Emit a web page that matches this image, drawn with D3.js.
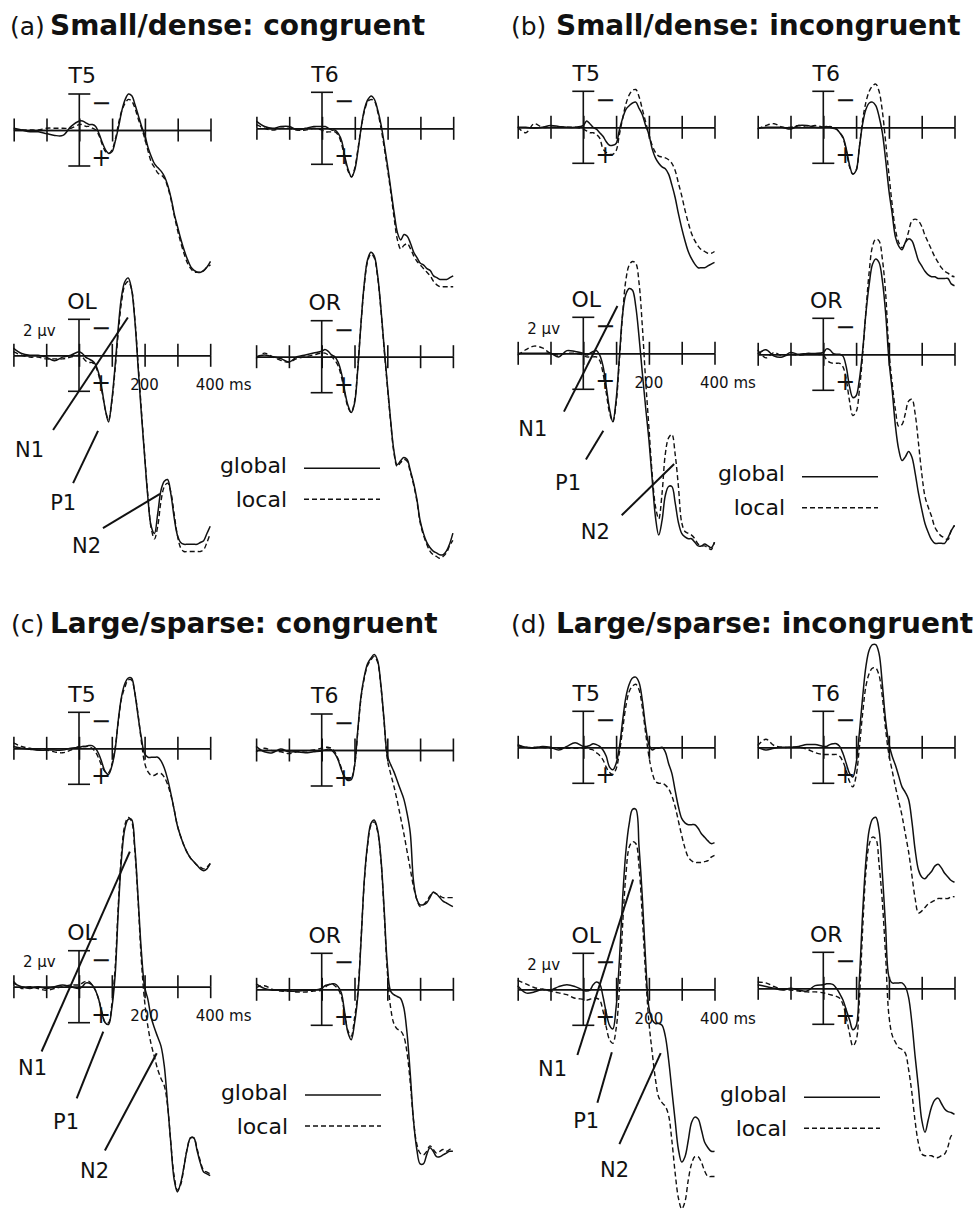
<!DOCTYPE html>
<html><head><meta charset="utf-8">
<script src="https://cdn.jsdelivr.net/npm/d3@7"></script>
<style>
html,body{margin:0;padding:0;background:#fff;}
svg{display:block;font-family:"DejaVu Sans",Verdana,sans-serif;}
</style>
</head><body>
<svg id="chart" width="978" height="1210"></svg>
<script>
// ---------------- DATA ----------------
// sample times (ms)
const times = [-200,-175,-150,-125,-100,-75,-50,-25,0,10,20,30,40,50,60,70,80,90,100,110,120,130,140,150,160,170,180,190,200,210,220,230,240,250,260,270,280,290,300,310,320,330,340,350,360,370,380,390,400];
const tickTimes = [-200,-100,0,100,200,300,400];
const electrodes = ["T5","T6","OL","OR"];
const panelKeys = ["a","b","c","d"];
const panelLetters = ["(a)","(b)","(c)","(d)"];
const panelTitles = ["Small/dense: congruent","Small/dense: incongruent","Large/sparse: congruent","Large/sparse: incongruent"];
const conditionLabels = ["global","local"];
const componentNames = ["N1","P1","N2"];
const scaleLabel = "2 μv";
const axisLabel200 = "200";
const axisLabel400 = "400 ms";

// amplitudes in µV (negative plotted up)
// (a) Small/dense: congruent
const aT5Global = [-0.1,0.0,0.1,0.1,0.2,0.3,0.3,-0.2, -0.5, -0.5,-0.4,-0.3,-0.3,-0.2,0.2,0.7,1.1,1.3,1.2, 0.6,-0.2,-1.1,-1.7,-2.0,-1.9,-1.4,-0.8,-0.2,0.3, 1.0,1.5,1.9,2.1,2.3,2.6,3.1,3.8,4.7,5.4, 6.1,6.7,7.2,7.6,7.8,7.9,7.9,7.8,7.6,7.3];
const aT5Local  = [0.0,0.0,0.0,0.0,-0.1,-0.1,-0.1,-0.1, -0.3, -0.3,-0.2,-0.2,-0.1,0.0,0.3,0.8,1.2,1.3,1.1, 0.5,-0.4,-1.1,-1.5,-1.7,-1.6,-1.2,-0.6,-0.1,0.5, 1.2,1.8,2.1,2.4,2.5,2.7,3.2,3.9,4.8,5.6, 6.3,6.9,7.4,7.7,7.9,7.9,7.9,7.8,7.6,7.5];
const aT6Global = [-0.4,-0.1,0.0,-0.1,-0.1,0.1,0.0,-0.1, -0.1, -0.1,0.0,0.1,0.1,0.3,0.7,1.6,2.3,2.7,2.3, 1.2,-0.1,-1.1,-1.6,-1.8,-1.6,-1.0,-0.2,0.9,2.1, 3.4,4.7,5.8,6.2,5.9,6.0,6.4,6.9,7.2,7.5, 7.6,7.8,7.9,8.2,8.3,8.4,8.4,8.4,8.3,8.2];
const aT6Local  = [-0.2,0.0,0.1,0.0,0.0,0.1,0.1,0.0, 0.1, 0.2,0.2,0.2,0.2,0.4,0.9,1.7,2.4,2.7,2.2, 1.1,-0.1,-1.0,-1.5,-1.6,-1.5,-0.9,0.0,1.1,2.3, 3.6,5.0,6.2,6.7,6.5,6.4,6.7,7.1,7.4,7.6, 7.8,8.0,8.2,8.5,8.7,8.8,8.8,8.8,8.8,8.8];
const aOLGlobal = [-0.4,-0.1,0.0,0.0,0.1,0.3,0.1,0.0, -0.2, -0.1,0.1,0.2,0.3,0.5,1.0,1.9,3.0,3.7,2.5, 0.6,-1.6,-3.3,-4.1,-4.3,-3.7,-2.0,0.6,3.2,5.6, 7.9,9.5,9.9,8.8,7.5,7.0,6.9,7.7,9.0,10.0, 10.4,10.5,10.5,10.5,10.5,10.5,10.4,10.3,9.9,9.5];
const aOLLocal  = [-0.2,0.0,0.1,0.1,0.2,0.2,0.2,0.1, 0.0, 0.1,0.3,0.4,0.4,0.6,1.1,2.0,3.0,3.6,2.6, 0.8,-1.3,-3.0,-3.9,-4.1,-3.7,-2.1,0.4,3.0,5.5, 7.8,9.6,10.2,9.5,8.1,7.3,7.1,7.6,8.8,10.0, 10.7,10.9,10.9,10.9,10.9,10.9,10.9,10.8,10.4,9.9];
const aORGlobal = [0.0,-0.1,0.0,0.1,0.3,0.0,-0.1,-0.2, -0.3, -0.4,-0.3,-0.1,0.0,0.3,0.9,1.9,2.7,3.1,2.6, 0.7,-1.9,-4.1,-5.4,-5.8,-5.6,-4.6,-2.8,-0.6,1.5, 3.5,5.2,6.0,5.8,5.6,5.7,6.3,7.0,7.9,9.1, 9.8,10.3,10.6,10.8,10.9,11.0,11.0,10.8,10.4,9.8];
const aORLocal  = [0.1,-0.2,0.0,0.2,0.3,0.1,0.0,-0.1, -0.2, -0.2,-0.1,0.0,0.2,0.5,1.1,2.0,2.8,3.1,2.5, 0.6,-1.9,-4.0,-5.3,-5.7,-5.5,-4.5,-2.7,-0.5,1.6, 3.6,5.3,6.1,5.9,5.7,5.8,6.4,7.1,8.0,9.2, 9.9,10.4,10.8,11.0,11.1,11.2,11.1,10.9,10.5,10.2];

// (b) Small/dense: incongruent
const bT5Global = [0.0,0.0,0.05,0.0,-0.1,-0.05,0.0,0.0, -0.1, -0.35,-0.2,0.0,0.1,0.3,0.5,0.8,1.0,1.0,0.9, 0.15,-0.5,-1.0,-1.2,-1.35,-1.4,-1.05,-0.7,-0.1,0.4, 1.2,1.7,2.0,2.2,2.3,2.6,3.2,3.9,4.8,5.6, 6.3,6.9,7.3,7.6,7.8,7.8,7.8,7.7,7.6,7.5];
const bT5Local  = [0.0,0.3,-0.2,0.0,0.0,0.0,0.0,0.0, 0.1, 0.2,0.3,0.3,0.4,0.6,1.2,1.4,1.5,1.5,1.3, 0.4,-0.5,-1.3,-1.8,-2.05,-2.1,-1.7,-1.0,-0.3,0.4, 1.0,1.4,1.6,1.65,1.7,1.8,2.0,2.4,3.1,3.8, 4.6,5.3,5.9,6.3,6.6,6.8,6.9,7.0,7.0,6.9];
const bT6Global = [0.05,0.0,0.0,0.0,0.1,-0.1,-0.1,0.0, 0.0, -0.05,0.0,0.05,0.1,0.3,0.55,1.2,2.1,2.6,2.4, 1.1,-0.2,-1.0,-1.35,-1.4,-1.2,-0.6,0.3,1.8,3.5, 4.8,6.1,6.6,6.8,6.4,6.2,6.3,6.8,7.4,7.7, 8.0,8.2,8.3,8.3,8.4,8.4,8.4,8.4,8.7,8.8];
const bT6Local  = [0.1,-0.1,-0.2,0.0,0.0,-0.1,0.0,-0.1, 0.0, 0.0,-0.05,0.0,0.1,0.3,0.6,1.3,2.2,2.6,2.4, 1.1,-0.4,-1.4,-2.0,-2.3,-2.4,-2.0,-0.9,0.8,2.6, 4.3,5.7,6.4,6.7,6.4,5.8,5.2,5.1,5.2,5.5, 6.0,6.4,6.8,7.2,7.5,7.8,8.0,8.1,8.25,8.3];
const bOLGlobal = [0.0,0.0,0.0,0.0,0.0,0.2,-0.15,-0.1, 0.0, 0.1,0.0,-0.1,-0.15,0.1,0.7,1.85,3.1,3.8,2.6, 0.2,-2.2,-3.3,-3.6,-3.5,-2.6,-0.9,1.1,3.0,4.8, 7.0,9.1,10.1,9.3,7.9,7.4,7.4,8.3,9.4,10.0, 10.2,10.3,10.3,10.5,10.7,10.7,10.6,10.7,10.8,10.5];
const bOLLocal  = [0.1,-0.2,-0.4,-0.3,0.0,0.1,0.0,0.0, 0.1, 0.2,0.2,0.2,0.2,0.4,1.1,2.2,3.3,3.8,2.8, 0.4,-2.2,-4.1,-4.9,-5.1,-5.0,-3.9,-1.5,1.5,4.1, 6.7,8.5,9.2,7.8,5.6,4.7,4.5,5.6,7.4,9.4, 9.9,10.0,10.1,10.3,10.6,10.7,10.7,10.8,10.9,10.5];
const bORGlobal = [0.0,-0.25,0.1,0.15,-0.1,0.0,-0.05,-0.05, -0.1, -0.3,-0.25,-0.05,0.0,0.0,0.1,0.7,1.8,2.4,2.3, 1.4,-0.2,-2.3,-3.9,-5.0,-5.3,-5.1,-4.1,-2.3,0.3, 2.0,4.0,5.3,5.9,5.7,5.4,5.7,6.6,7.7,8.6, 9.4,9.9,10.3,10.5,10.5,10.5,10.5,10.2,9.8,9.5];
const bORLocal  = [-0.25,0.2,-0.1,0.1,0.0,0.05,0.0,0.0, 0.05, 0.3,0.45,0.5,0.5,0.5,0.7,1.4,2.6,3.4,3.2, 2.0,0.0,-2.4,-4.6,-6.0,-6.4,-6.3,-5.3,-3.4,-0.2, 1.6,3.1,4.0,3.9,3.3,2.6,2.5,3.3,4.9,6.6, 7.9,8.5,9.0,9.6,9.9,10.1,10.2,10.3,9.8,9.5];

// (c) Large/sparse: congruent
const cT5Global = [-0.1,0.0,0.05,0.1,0.1,0.1,0.1,0.0, -0.05, -0.1,-0.1,-0.15,-0.15,0.0,0.3,0.8,1.3,1.45,1.0, 0.1,-1.6,-2.9,-3.6,-3.9,-3.9,-3.1,-1.8,-0.6,0.3, 0.5,0.5,0.5,0.5,0.7,1.1,1.7,2.5,3.4,4.3, 4.9,5.4,5.8,6.1,6.3,6.5,6.7,6.8,6.7,6.4];
const cT5Local  = [-0.3,-0.1,0.0,0.1,0.1,0.2,0.25,0.1, -0.1, -0.1,-0.1,-0.1,0.0,0.2,0.55,1.0,1.3,1.35,0.9, 0.0,-1.5,-2.8,-3.4,-3.8,-3.8,-3.1,-1.9,-0.4,0.8, 1.3,1.5,1.5,1.4,1.4,1.6,2.0,2.6,3.4,4.3, 4.9,5.4,5.8,6.1,6.3,6.5,6.6,6.7,6.6,6.4];
const cT6Global = [-0.2,0.1,0.15,-0.05,0.1,0.1,0.15,0.1, 0.05, 0.0,-0.05,0.0,0.2,0.55,1.1,1.5,1.65,1.65,0.9, -1.1,-3.0,-4.1,-4.8,-5.1,-5.3,-5.0,-3.7,-1.7,0.3, 0.8,1.2,1.7,2.2,2.7,3.5,4.6,7.3,8.3,8.6, 8.6,8.5,8.2,7.9,8.0,8.2,8.4,8.5,8.6,8.7];
const cT6Local  = [0.1,-0.1,0.05,0.1,0.2,0.1,0.05,0.0, -0.1, -0.15,-0.15,-0.1,0.1,0.5,1.0,1.5,1.7,1.6,0.9, -1.0,-2.9,-4.0,-4.7,-5.0,-5.2,-4.9,-3.6,-1.6,0.5, 1.3,2.0,2.8,3.7,4.6,5.6,6.6,7.6,8.3,8.7, 8.6,8.4,8.1,7.9,8.0,8.1,8.2,8.2,8.2,8.2];
const cOLGlobal = [-0.2,0.0,0.1,0.0,0.1,0.0,-0.1,0.0, 0.1, 0.0,-0.2,-0.2,-0.1,0.2,0.7,1.5,2.0,2.1,1.2, -0.6,-4.3,-7.2,-8.8,-9.3,-9.3,-7.8,-5.0,-2.0,0.0, 0.7,1.7,2.3,2.8,3.3,4.4,6.5,8.7,10.7,11.4, 10.9,10.0,9.0,8.4,8.4,9.1,9.8,10.3,10.4,10.5];
const cOLLocal  = [-0.3,0.1,0.0,0.1,0.2,0.1,0.0,-0.1, -0.1, -0.2,-0.3,-0.3,-0.1,0.2,0.7,1.4,2.0,2.0,1.0, -1.0,-4.6,-7.5,-9.0,-9.4,-9.2,-7.6,-4.8,-1.5,0.8, 2.2,3.2,3.9,4.6,5.1,5.5,6.6,8.7,10.5,11.3, 11.0,10.0,9.0,8.4,8.4,9.0,9.7,10.2,10.3,10.4];
const cORGlobal = [-0.3,-0.05,0.05,0.05,0.1,0.1,0.05,0.05, -0.05, -0.2,-0.25,-0.3,-0.3,-0.15,0.2,1.3,2.4,2.8,1.9, 0.4,-2.7,-6.1,-8.1,-9.2,-9.4,-8.9,-7.4,-4.6,-1.4, 0.1,0.3,0.4,0.5,1.0,2.4,4.7,7.3,8.9,9.7, 9.7,9.2,8.8,9.0,9.3,9.3,9.2,9.1,9.0,9.0];
const cORLocal  = [-0.1,-0.2,0.0,0.1,0.1,0.15,0.15,0.1, 0.05, -0.1,-0.25,-0.3,-0.2,0.0,0.4,1.4,2.3,2.6,1.6, 0.2,-2.8,-6.0,-8.0,-9.1,-9.3,-8.8,-7.3,-4.4,-1.0, 1.0,1.9,2.2,2.3,2.6,3.5,5.2,7.3,8.6,9.1, 9.2,9.0,8.7,8.9,9.1,9.0,8.9,9.0,8.9,8.8];

// (d) Large/sparse: incongruent
const dT5Global = [-0.15,0.0,0.05,-0.05,0.0,0.15,-0.05,-0.25, -0.05, -0.05,-0.1,-0.2,-0.15,-0.05,0.15,0.5,1.1,1.25,0.9, 0.0,-1.5,-2.8,-3.5,-3.85,-3.9,-3.6,-2.6,-1.15,-0.15, 0.15,0.05,0.05,0.0,0.25,0.9,1.45,2.4,3.3,3.95, 4.2,4.3,4.3,4.3,4.5,4.8,5.0,5.2,5.35,5.3];
const dT5Local  = [-0.1,0.0,0.0,0.0,0.05,0.05,0.05,0.05, 0.05, 0.05,0.1,0.15,0.3,0.45,0.7,1.1,1.4,1.5,1.2, 0.3,-1.0,-2.3,-3.1,-3.4,-3.5,-3.2,-2.2,-0.8,0.5, 1.4,1.9,2.0,2.0,2.1,2.3,2.7,3.3,4.1,4.9, 5.6,6.1,6.3,6.4,6.4,6.4,6.35,6.3,6.1,6.0];
const dT6Global = [0.0,0.15,0.05,0.0,0.0,-0.05,-0.15,-0.15, -0.05, -0.05,-0.15,-0.2,-0.2,-0.05,0.35,0.9,1.45,1.65,0.9, -0.8,-2.8,-4.5,-5.4,-5.7,-5.7,-5.2,-3.5,-1.5,-0.2, 0.5,1.0,1.6,2.2,2.5,2.9,4.1,5.7,6.8,7.2, 7.3,7.1,6.9,6.6,6.5,6.7,7.0,7.2,7.4,7.5];
const dT6Local  = [-0.1,-0.45,-0.1,0.0,0.0,0.0,0.1,0.3, 0.4, 0.4,0.4,0.4,0.4,0.5,0.8,1.3,1.9,2.2,1.6, 0.0,-1.9,-3.4,-4.1,-4.4,-4.4,-4.0,-2.8,-1.0,0.4, 1.3,2.2,3.0,3.8,4.8,5.8,7.1,8.4,9.2,9.1, 8.9,8.7,8.6,8.5,8.4,8.4,8.4,8.4,8.3,8.3];
const dOLGlobal = [-0.2,0.2,0.15,0.0,0.05,-0.15,-0.25,-0.15, 0.05, 0.1,0.05,-0.25,-0.4,-0.3,0.4,1.3,2.0,2.2,1.0, -1.6,-5.1,-7.7,-9.2,-10.0,-10.0,-7.9,-5.1,-1.6,1.0, 1.7,1.9,1.9,2.0,2.6,3.9,5.6,7.3,8.9,9.6, 9.3,8.4,7.4,7.1,7.2,7.8,8.5,8.8,9.0,9.0];
const dOLLocal  = [-0.5,-0.3,-0.1,0.0,0.1,0.2,0.3,0.5, 0.55, 0.6,0.55,0.5,0.5,0.6,1.2,2.1,2.8,3.0,2.2, 0.0,-3.6,-6.4,-7.9,-8.2,-8.1,-6.8,-4.0,-0.8,1.8, 3.5,5.0,6.0,6.3,6.5,7.0,8.4,10.2,11.6,12.2, 11.8,10.6,9.7,9.3,9.3,9.6,10.1,10.4,10.4,10.4];
const dORGlobal = [-0.2,-0.1,0.0,0.1,0.0,0.1,0.15,-0.15, -0.2, -0.25,-0.25,-0.2,0.0,0.3,0.65,1.2,1.75,2.3,2.1, -0.5,-4.2,-7.1,-8.8,-9.4,-9.5,-8.8,-6.4,-3.4,-0.65, -0.3,-0.3,-0.3,-0.3,-0.1,0.5,1.9,3.8,5.5,7.3, 8.0,7.3,6.6,6.2,6.1,6.4,6.7,6.85,6.9,7.0];
const dORLocal  = [-0.35,-0.3,-0.1,0.05,0.1,0.15,0.2,0.2, 0.25, 0.3,0.35,0.4,0.45,0.55,0.9,1.6,2.5,3.2,2.9, 0.6,-3.3,-6.5,-8.0,-8.4,-8.3,-6.9,-4.8,-1.8,1.5, 2.6,3.0,3.3,3.4,3.6,4.5,5.8,7.4,8.6,9.2, 9.3,9.3,9.3,9.4,9.4,9.3,9.2,8.8,8.2,8.1];

// component pointers on OL: [from ms, µV, to ms, µV, label ms, µV] for N1, P1, N2
const annotA = [[-79,4.15,149,-2.1,-195,5.65],[58,4.2,-18,7.1,-88,8.6],[73,9.6,247,7.7,-21,11.0]];
const annotB = [[-59,3.24,104,-2.63,-198,4.6],[61,4.3,8,5.9,-86,7.6],[117,9.0,277,6.15,-8,10.3]];
const annotC = [[-114,3.6,155,-7.5,-186,4.9],[74,2.5,-7,6.2,-79,7.9],[237,3.7,79,9.1,3,10.6]];
const annotD = [[-18,3.65,152,-6.1,-138,4.8],[87,3.5,43,6.3,-31,7.7],[236,3.55,110,8.6,51,10.4]];

// ---------------- ASSEMBLY ----------------
const seriesByPanel = {
  a:{T5:[aT5Global,aT5Local],T6:[aT6Global,aT6Local],OL:[aOLGlobal,aOLLocal],OR:[aORGlobal,aORLocal]},
  b:{T5:[bT5Global,bT5Local],T6:[bT6Global,bT6Local],OL:[bOLGlobal,bOLLocal],OR:[bORGlobal,bORLocal]},
  c:{T5:[cT5Global,cT5Local],T6:[cT6Global,cT6Local],OL:[cOLGlobal,cOLLocal],OR:[cORGlobal,cORLocal]},
  d:{T5:[dT5Global,dT5Local],T6:[dT6Global,dT6Local],OL:[dOLGlobal,dOLLocal],OR:[dORGlobal,dORLocal]}
};
const annotByPanel = {a:annotA,b:annotB,c:annotC,d:annotD};

// layout (pixel positions): title [letterX, boldX, baseline], legend [textRight, firstLineY], origins [x of 0 ms, baseline y]
const layout = {
  a:{title:[10,50,35],  legend:[287,468.3], origin:{T5:[79.3,130],T6:[322,128.3],OL:[79,355.3],OR:[321.7,356.7]}},
  b:{title:[511,556,35],legend:[785,476.7], origin:{T5:[583.3,127.3],T6:[823.3,127.3],OL:[583.3,353.3],OR:[823.3,354.3]}},
  c:{title:[11,50,633], legend:[288,1095],  origin:{T5:[79,748.3],T6:[321.7,750],OL:[79,986.7],OR:[321.7,989.3]}},
  d:{title:[511,556,633],legend:[787,1097.3],origin:{T5:[583.3,747.3],T6:[823.3,747.3],OL:[583.3,989.3],OR:[823.3,988.3]}}
};
const PX_PER_MS = 0.328, PX_PER_UV = 18;
const INK = "#111";
const DASH = "5,3";

const svg = d3.select("#chart");
svg.append("rect").attr("width",978).attr("height",1210).attr("fill","#fff");

const line = (x,y) => d3.line().x((d,i)=>x(times[i])).y(d=>y(d)).curve(d3.curveCatmullRom.alpha(0.5));

function drawSubplot(g, key, el) {
  const [ox, oy] = layout[key].origin[el];
  const x = d3.scaleLinear().domain([-200,400]).range([ox-200*PX_PER_MS, ox+400*PX_PER_MS]);
  const y = d3.scaleLinear().domain([-2,2]).range([oy-2*PX_PER_UV, oy+2*PX_PER_UV]);
  const sg = g.append("g");

  // time axis with crossing ticks
  const axB = d3.axisBottom(x).tickValues(tickTimes).tickSize(11.5).tickSizeOuter(0).tickFormat("");
  const axT = d3.axisTop(x).tickValues(tickTimes).tickSize(11.5).tickSizeOuter(0).tickFormat("");
  [axB, axT].forEach(ax => {
    const a = sg.append("g").attr("transform",`translate(0,${y(0)})`).call(ax);
    a.selectAll("path,line").attr("stroke",INK).attr("stroke-width",1.6);
  });

  // amplitude scale bar (±2 µV)
  const x0 = x(0);
  sg.append("line").attr("x1",x0).attr("x2",x0).attr("y1",y(-2)).attr("y2",y(2)).attr("stroke",INK).attr("stroke-width",1.6);
  [-2,2].forEach(v => sg.append("line").attr("x1",x0-11).attr("x2",x0+11).attr("y1",y(v)).attr("y2",y(v)).attr("stroke",INK).attr("stroke-width",1.6));
  sg.append("text").attr("x",x0+22).attr("y",y(-1.5)).attr("text-anchor","middle").attr("dominant-baseline","central")
    .attr("font-size",24).attr("fill",INK).text("−");
  sg.append("text").attr("x",x0+22).attr("y",y(1.55)).attr("text-anchor","middle").attr("dominant-baseline","central")
    .attr("font-size",24).attr("fill",INK).text("+");

  // electrode label
  sg.append("text").attr("x",x0+3).attr("y",y(-2.6)).attr("text-anchor","middle").attr("font-size",22).attr("fill",INK).text(el);

  // waveforms: local (dashed) and global (solid)
  const [gv, lv] = seriesByPanel[key][el];
  sg.append("path").datum(lv).attr("d",line(x,y)).attr("fill","none").attr("stroke",INK).attr("stroke-width",1.4).attr("stroke-dasharray",DASH);
  sg.append("path").datum(gv).attr("d",line(x,y)).attr("fill","none").attr("stroke",INK).attr("stroke-width",1.5);

  if (el === "OL") {
    sg.append("text").attr("x",x0-56).attr("y",y(-1.1)).attr("font-size",15).attr("fill",INK).text(scaleLabel);
    sg.append("text").attr("x",x(200)).attr("y",y(1.9)).attr("text-anchor","middle").attr("font-size",15).attr("fill",INK).text(axisLabel200);
    sg.append("text").attr("x",x(400)-14.5).attr("y",y(1.9)).attr("font-size",15).attr("fill",INK).text(axisLabel400);
    annotByPanel[key].forEach((a,i) => {
      sg.append("line").attr("x1",x(a[0])).attr("y1",y(a[1])).attr("x2",x(a[2])).attr("y2",y(a[3]))
        .attr("stroke",INK).attr("stroke-width",2);
      sg.append("text").attr("x",x(a[4])).attr("y",y(a[5])).attr("font-size",21).attr("fill",INK).text(componentNames[i]);
    });
  }
}

panelKeys.forEach((key, pi) => {
  const g = svg.append("g");
  const [lx, bx, ty] = layout[key].title;
  g.append("text").attr("x",lx).attr("y",ty).attr("font-size",25).attr("fill",INK).text(panelLetters[pi]);
  g.append("text").attr("x",bx).attr("y",ty).attr("font-size",28).attr("font-weight","bold").attr("fill",INK).text(panelTitles[pi]);
  electrodes.forEach(el => drawSubplot(g, key, el));
  // legend
  const [tx, ly] = layout[key].legend;
  conditionLabels.forEach((lab, i) => {
    const yy = ly + i*31;
    g.append("text").attr("x",tx).attr("y",yy + (i===0?4.5:7.5)).attr("text-anchor","end").attr("font-size",22).attr("fill",INK).text(lab);
    g.append("line").attr("x1",tx+17).attr("x2",tx+93).attr("y1",yy).attr("y2",yy).attr("stroke",INK)
      .attr("stroke-width",1.5).attr("stroke-dasharray", i===1 ? DASH : null);
  });
});
</script>
</body></html>
